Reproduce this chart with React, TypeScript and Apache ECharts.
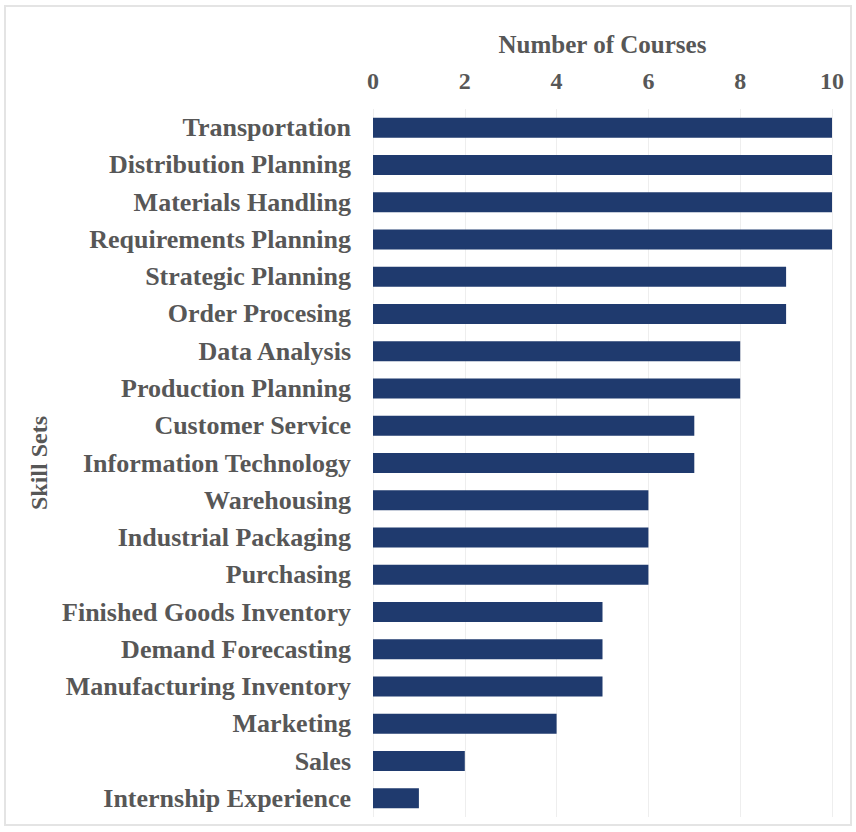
import React, { useEffect, useRef } from "react";
import * as echarts from "echarts";

const categories = [
  "Transportation",
  "Distribution Planning",
  "Materials Handling",
  "Requirements Planning",
  "Strategic Planning",
  "Order Procesing",
  "Data Analysis",
  "Production Planning",
  "Customer Service",
  "Information Technology",
  "Warehousing",
  "Industrial Packaging",
  "Purchasing",
  "Finished Goods Inventory",
  "Demand Forecasting",
  "Manufacturing Inventory",
  "Marketing",
  "Sales",
  "Internship Experience",
];

const courseCounts = [10, 10, 10, 10, 9, 9, 8, 8, 7, 7, 6, 6, 6, 5, 5, 5, 4, 2, 1];

const xAxisTitle = "Number of Courses";
const yAxisTitle = "Skill Sets";

const FONT = "'Liberation Serif', 'Times New Roman', serif";
const TEXT_COLOR = "#575757";

export default function App() {
  const ref = useRef<HTMLDivElement>(null);

  useEffect(() => {
    if (!ref.current) return;
    const chart = echarts.init(ref.current, undefined, { renderer: "svg" });
    chart.setOption({
      animation: false,
      backgroundColor: "#ffffff",
      graphic: [
        {
          type: "rect",
          shape: { x: 5, y: 6, width: 846, height: 819 },
          style: { fill: "none", stroke: "#e4e4e4", lineWidth: 2 },
          silent: true,
          z: 100,
        },
      ],
      grid: { left: 373, right: 24, top: 109, bottom: 15, containLabel: false },
      xAxis: {
        type: "value",
        position: "top",
        min: 0,
        max: 10,
        interval: 2,
        name: xAxisTitle,
        nameLocation: "middle",
        nameGap: 52,
        nameTextStyle: { fontFamily: FONT, fontWeight: "bold", fontSize: 25, color: TEXT_COLOR },
        axisLine: { show: false },
        axisTick: { show: false },
        axisLabel: { fontFamily: FONT, fontWeight: "bold", fontSize: 24, color: TEXT_COLOR, margin: 16 },
        splitLine: { show: true, lineStyle: { color: "#eeeeee", width: 1 } },
      },
      yAxis: {
        type: "category",
        inverse: true,
        data: categories,
        name: yAxisTitle,
        nameLocation: "middle",
        nameRotate: 90,
        nameGap: 316,
        nameTextStyle: { fontFamily: FONT, fontWeight: "bold", fontSize: 24, color: TEXT_COLOR },
        axisLine: { show: false },
        axisTick: { show: false },
        axisLabel: { fontFamily: FONT, fontWeight: "bold", fontSize: 26, color: TEXT_COLOR, margin: 22 },
      },
      series: [
        {
          type: "bar",
          data: courseCounts,
          barWidth: 20,
          itemStyle: { color: "#1f3a6e" },
        },
      ],
    });
    return () => chart.dispose();
  }, []);

  return (
    <div
      ref={ref}
      style={{ position: "absolute", left: 0, top: 0, width: 856, height: 832 }}
    />
  );
}
